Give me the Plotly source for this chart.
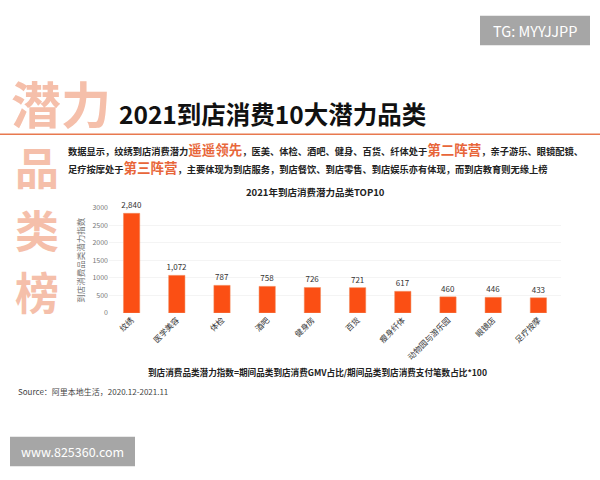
import plotly.graph_objects as go

categories = ["纹绣", "医学美容", "体检", "酒吧", "健身房", "百货", "瘦身纤体", "动物园与游乐园", "眼镜店", "足疗按摩"]
values = [2840, 1072, 787, 758, 726, 721, 617, 460, 446, 433]
side_chars = [("潜力", 61, 98, 50), ("品", 37, 163, 44), ("类", 37, 228, 44), ("榜", 37, 291, 44)]

W, H = 600, 480
CJK = "Noto Sans CJK SC"
ORANGE = "#fb4f14"
HILITE = "#e8663a"


def small(s):
    return f'<span style="font-size:9.25px">{s}</span>'


def big(s):
    return f'<span style="color:{HILITE}">{s}</span>'


def px_text(x, y, text, size, color="#222222", anchor="left"):
    return dict(
        x=x / W, y=1 - y / H, xref="paper", yref="paper", text=text, showarrow=False,
        xanchor=anchor, yanchor="middle", align="left", font=dict(family=CJK, size=size, color=color),
    )


def px_rect(x0, y0, x1, y1, color):
    return dict(
        type="rect", xref="paper", yref="paper", x0=x0 / W, x1=x1 / W,
        y0=1 - y0 / H, y1=1 - y1 / H, fillcolor=color, line_width=0, layer="below",
    )


fig = go.Figure(
    go.Bar(
        x=categories,
        y=values,
        width=0.36,
        marker=dict(color=ORANGE, line=dict(color="#f08a5d", width=0.5)),
        text=[f"{v:,}" for v in values],
        textposition="outside",
        cliponaxis=False,
        constraintext="none",
        textfont=dict(family=CJK, size=8, color="#333333"),
    )
)

# one annotation for both lines: its line height comes from the 13px base font
body = (
    f"<b>{small('数据显示，纹绣到店消费潜力')}{big('遥遥领先')}{small('，医美、体检、酒吧、健身、百货、纤体处于')}"
    f"{big('第二阵营')}{small('，亲子游乐、眼镜配镜、')}<br>"
    f"{small('足疗按摩处于')}{big('第三阵营')}{small('，主要体现为到店服务，到店餐饮、到店零售、到店娱乐亦有体现，而到店教育则无缘上榜')}</b>"
)

annotations = [
    px_text(117, 110, "<b>2021到店消费10大潜力品类</b>", 24.5, "#111111"),
    px_text(66, 155, body, 13.5, "#222222"),
    px_text(316, 190, "<b>2021年到店消费潜力品类TOP10</b>", 9.5, "#222222", "center"),
    px_text(317, 374, "<b>到店消费品类潜力指数=期间品类到店消费GMV占比/期间品类到店消费支付笔数占比*100</b>", 8.6, "#222222", "center"),
    px_text(16, 394, "Source：阿里本地生活，2020.12-2021.11", 8, "#444444"),
    px_text(72, 455, "www.825360.com", 12.5, "#ffffff", "center"),
    px_text(535, 25, "TG: MYYJJPP", 14.5, "#ffffff", "center"),
]
for chars, x, y, size in side_chars:
    annotations.append(px_text(x, y, f"<b>{chars}</b>", size, "#f5bfaa", "center"))

fig.update_layout(
    width=W,
    height=H,
    margin=dict(l=0, r=0, t=0, b=0),
    paper_bgcolor="white",
    plot_bgcolor="white",
    showlegend=False,
    annotations=annotations,
    shapes=[
        dict(type="line", xref="paper", yref="paper", x0=0, x1=1, y0=1 - 131 / H, y1=1 - 131 / H,
             line=dict(color="#e8794f", width=1.5)),
        px_rect(10, 440, 135, 470, "#a6a6a6"),
        px_rect(480, 10, 590, 40, "#a6a6a6"),
    ],
    xaxis=dict(
        domain=[109 / W, 561 / W],
        tickangle=-45,
        tickfont=dict(family=CJK, size=8, color="#333333"),
        showgrid=False,
        showline=False,
        ticks="",
    ),
    yaxis=dict(
        domain=[1 - 313.5 / H, 1 - 206 / H],
        range=[0, 3000],
        tickvals=[0, 500, 1000, 1500, 2000, 2500, 3000],
        tickformat="d",
        tickfont=dict(family=CJK, size=7, color="#777777"),
        gridcolor="#f4f4f4",
        zeroline=False,
        title=dict(text="到店消费品类潜力指数", font=dict(family=CJK, size=8.5, color="#777777"), standoff=6),
    ),
)

# the default body margin would push the figure 8px off the page
fig.write_html(
    "out.html",
    config={"displayModeBar": False},
    post_script="document.body.style.margin = '0';",
)
